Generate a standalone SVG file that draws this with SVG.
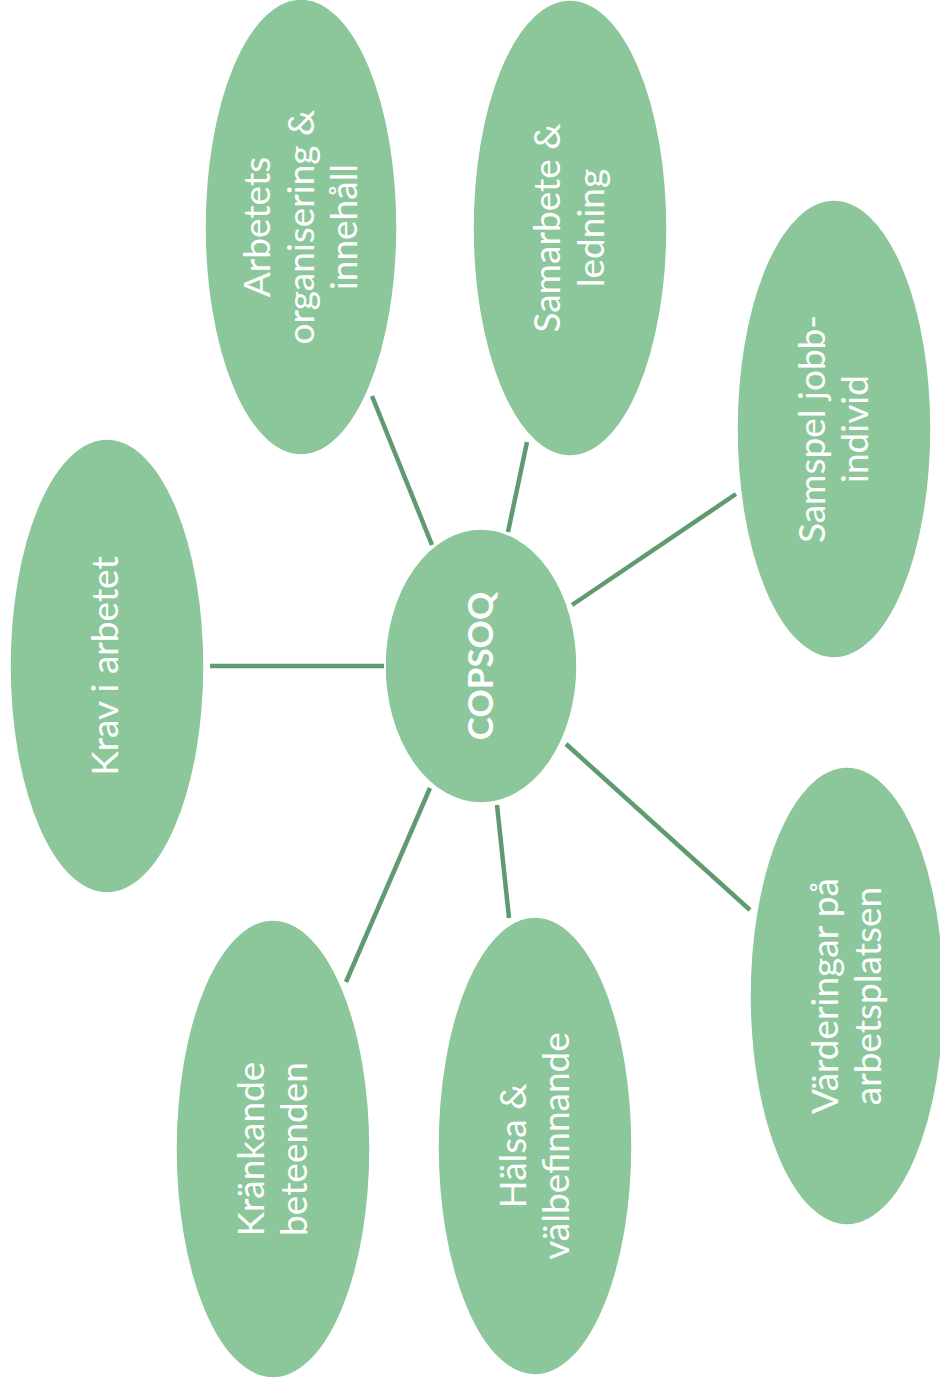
<svg xmlns="http://www.w3.org/2000/svg" width="940" height="1384" viewBox="0 0 940 1384">
<style>
.node{fill:#8cc79b;stroke:#ffffff;stroke-width:1.5}
.lbl{font-family:Lato,"Liberation Sans",sans-serif;font-size:37px;fill:#ffffff;text-anchor:middle}
.hub{font-weight:bold;font-size:35px}
.conn line{stroke:#5f9a70;stroke-width:4.5;stroke-linecap:butt}
</style>
<rect width="940" height="1384" fill="#ffffff"/>
<g id="connectors" class="conn">
<line x1="210" y1="666" x2="384" y2="666"/>
<line x1="372" y1="396" x2="432" y2="545"/>
<line x1="527" y1="442" x2="508" y2="532"/>
<line x1="572" y1="605" x2="736" y2="494"/>
<line x1="566" y1="744" x2="750" y2="910"/>
<line x1="497" y1="805" x2="509" y2="918"/>
<line x1="430" y1="788" x2="346" y2="982"/>
</g>
<g id="copsoq">
<ellipse class="node" cx="481" cy="666" rx="96" ry="137"/>
<text class="lbl hub" transform="translate(481,666) rotate(-90)" x="0" y="12">COPSOQ</text>
</g>
<g id="krav">
<ellipse class="node" cx="107" cy="666" rx="97" ry="227"/>
<text class="lbl" transform="translate(107,666) rotate(-90)" x="0" y="11">Krav i arbetet</text>
</g>
<g id="arbetets">
<ellipse class="node" cx="301" cy="227" rx="96" ry="228"/>
<text class="lbl" transform="translate(301,227) rotate(-90)"><tspan x="0" y="-31">Arbetets</tspan><tspan x="0" y="12.5">organisering &amp;</tspan><tspan x="0" y="56">innehåll</tspan></text>
</g>
<g id="samarbete">
<ellipse class="node" cx="570" cy="228" rx="97" ry="228"/>
<text class="lbl" transform="translate(570,228) rotate(-90)"><tspan x="0" y="-10">Samarbete &amp;</tspan><tspan x="0" y="33.5">ledning</tspan></text>
</g>
<g id="samspel">
<ellipse class="node" cx="834" cy="429" rx="97" ry="229"/>
<text class="lbl" transform="translate(834,429) rotate(-90)"><tspan x="0" y="-9.5">Samspel jobb-</tspan><tspan x="0" y="34">individ</tspan></text>
</g>
<g id="varderingar">
<ellipse class="node" cx="847" cy="996" rx="97" ry="229"/>
<text class="lbl" transform="translate(847,996) rotate(-90)"><tspan x="0" y="-9.5">Värderingar på</tspan><tspan x="0" y="34">arbetsplatsen</tspan></text>
</g>
<g id="halsa">
<ellipse class="node" cx="535" cy="1146" rx="97" ry="229"/>
<text class="lbl" transform="translate(535,1146) rotate(-90)"><tspan x="0" y="-9.5">Hälsa &amp;</tspan><tspan x="0" y="34">välbefinnande</tspan></text>
</g>
<g id="krankande">
<ellipse class="node" cx="273" cy="1149" rx="97" ry="229"/>
<text class="lbl" transform="translate(273,1149) rotate(-90)"><tspan x="0" y="-9.5">Kränkande</tspan><tspan x="0" y="34">beteenden</tspan></text>
</g>
</svg>
